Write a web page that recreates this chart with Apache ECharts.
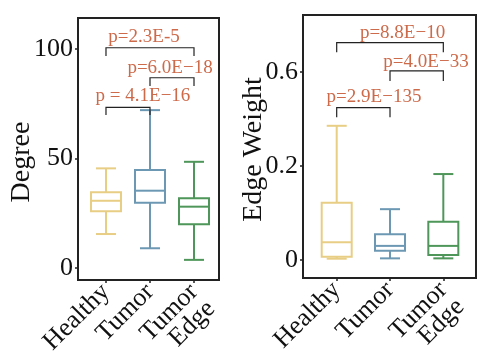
<!DOCTYPE html>
<html><head><meta charset="utf-8">
<script src="https://cdn.jsdelivr.net/npm/echarts@6/dist/echarts.min.js"></script>
<style>html,body{margin:0;padding:0;background:#fff}#c{width:477px;height:359px}</style>
</head><body><div id="c"></div>
<script>
// ---- data ----
const categories = ['Healthy', 'Tumor', 'Tumor\nEdge'];
const colors = ['#E8CD85', '#6C98B4', '#4E965A'];
// [min, Q1, median, Q3, max]
const degreeBoxes = [
  [15.5, 25.9, 30.7, 34.6, 45.5],
  [9.0, 29.8, 35.3, 44.7, 72.1],
  [3.7, 20.0, 28.0, 31.8, 48.5]
];
const edgeBoxes = [
  [0.002, 0.005, 0.028, 0.105, 0.338],
  [0.0025, 0.014, 0.022, 0.042, 0.091],
  [0.0025, 0.0075, 0.022, 0.065, 0.177]
];
const degreeTicks = [0, 50, 100];
const edgeTicks = [0, 0.2, 0.6];
// brackets: [fromCat, toCat, barY, endY]
const degreeBrackets = [[0, 1, 73.4, 69.9], [1, 2, 86.9, 83.1], [0, 2, 100.6, 96.8]];
const edgeBrackets = [[0, 1, 0.415, 0.373], [1, 2, 0.606, 0.548], [0, 2, 0.793, 0.725]];
// p labels: [text, x, y]
const degreeP = [['p = 4.1E\u221216', 0.84, 78.5], ['p=6.0E\u221218', 1.455, 91.3], ['p=2.3E-5', 0.864, 105.5]];
const edgeP = [['p=2.9E\u2212135', 0.70, 0.463], ['p=4.0E\u221233', 1.675, 0.658], ['p=8.8E\u221210', 1.235, 0.870]];

// edge weight axis is non-linear: equal spacing for 0, 0.2, 0.6
const tf = v => Math.log2(1 + 5 * v);

const FONT = '"Liberation Serif", "Times New Roman", serif';
const chart = echarts.init(document.getElementById('c'));

function boxSeries(gi, boxes, transform) {
  return {
    type: 'custom', xAxisIndex: gi, yAxisIndex: gi,
    data: boxes.map((b, i) => [i].concat(b.map(transform))),
    renderItem: function (params, api) {
      const i = api.value(0);
      const c = colors[i];
      const pMin = api.coord([i, api.value(1)]);
      const pQ1 = api.coord([i, api.value(2)]);
      const pMed = api.coord([i, api.value(3)]);
      const pQ3 = api.coord([i, api.value(4)]);
      const pMax = api.coord([i, api.value(5)]);
      const x = pMin[0], bw = 15, cw = 10;
      const st = { stroke: c, lineWidth: 2, fill: 'none' };
      return {
        type: 'group', children: [
          { type: 'line', shape: { x1: x, y1: pMax[1], x2: x, y2: pQ3[1] }, style: st },
          { type: 'line', shape: { x1: x, y1: pQ1[1], x2: x, y2: pMin[1] }, style: st },
          { type: 'line', shape: { x1: x - cw, y1: pMax[1], x2: x + cw, y2: pMax[1] }, style: st },
          { type: 'line', shape: { x1: x - cw, y1: pMin[1], x2: x + cw, y2: pMin[1] }, style: st },
          { type: 'rect', shape: { x: x - bw, y: pQ3[1], width: 2 * bw, height: pQ1[1] - pQ3[1] }, style: st },
          { type: 'line', shape: { x1: x - bw, y1: pMed[1], x2: x + bw, y2: pMed[1] }, style: st }
        ]
      };
    }
  };
}
function bracketSeries(gi, br, ps, transform) {
  return {
    type: 'custom', xAxisIndex: gi, yAxisIndex: gi,
    data: br.map(b => [b[0], b[1], transform(b[2]), transform(b[3])]),
    renderItem: function (params, api) {
      const a = api.coord([api.value(0), api.value(3)]);
      const b = api.coord([api.value(0), api.value(2)]);
      const c = api.coord([api.value(1), api.value(2)]);
      const d = api.coord([api.value(1), api.value(3)]);
      const p = ps[params.dataIndex];
      const t = api.coord([p[1], transform(p[2])]);
      return {
        type: 'group', children: [
          { type: 'polyline', shape: { points: [a, b, c, d] }, style: { stroke: '#222', lineWidth: 1.2, fill: 'none' } },
          { type: 'text', x: t[0], y: t[1], style: { text: p[0], fill: '#CC6A4A', font: '19px ' + FONT, align: 'center', verticalAlign: 'middle' } }
        ]
      };
    }
  };
}
// category labels, rotated 45deg, first line anchored at the tick
function catLabelSeries(gi) {
  return {
    type: 'custom', xAxisIndex: gi, yAxisIndex: gi, clip: false, silent: true,
    data: categories.map((c, i) => [i]),
    renderItem: function (params, api) {
      const i = api.value(0);
      const cs = params.coordSys;
      const px = api.coord([i, 0])[0];
      const lh = 24, margin = 8, h = lh / 2 * Math.SQRT1_2;
      return {
        type: 'text', x: px - h, y: cs.y + cs.height + margin - h, rotation: Math.PI / 4,
        style: { text: categories[i], font: '26px ' + FONT, fill: '#111', align: 'right', verticalAlign: 'top', lineHeight: lh }
      };
    }
  };
}
function xAx(gi, min, max) {
  return {
    type: 'value', gridIndex: gi, min: min, max: max,
    axisLine: { show: true, onZero: false, lineStyle: { color: '#222', width: 2 } },
    axisTick: { show: true, customValues: [0, 1, 2], length: 3, lineStyle: { color: '#222', width: 1.5 } },
    splitLine: { show: false },
    axisLabel: { show: false }
  };
}
function yAx(gi, min, max, ticks, transform, name, nameGap, pad) {
  const tv = ticks.map(transform);
  return {
    type: 'value', gridIndex: gi, min: min, max: max,
    name: name, nameLocation: 'middle', nameGap: nameGap, nameMoveOverlap: false,
    nameTextStyle: { fontFamily: FONT, fontSize: 28, color: '#111', padding: pad },
    axisLine: { show: true, onZero: false, lineStyle: { color: '#222', width: 2 } },
    axisTick: { show: true, customValues: tv, length: 3, lineStyle: { color: '#222', width: 1.5 } },
    splitLine: { show: false },
    axisLabel: {
      customValues: tv, margin: 5,
      formatter: v => String(ticks[tv.findIndex(t => Math.abs(t - v) < 1e-6)]),
      fontFamily: FONT, fontSize: 26, color: '#111'
    }
  };
}
const id = v => v;
chart.setOption({
  animation: false,
  backgroundColor: '#fff',
  grid: [
    { left: 78, top: 18, width: 141, height: 262, show: true, borderColor: '#222', borderWidth: 2, backgroundColor: 'transparent' },
    { left: 303, top: 15, width: 173, height: 263, show: true, borderColor: '#222', borderWidth: 2, backgroundColor: 'transparent' }
  ],
  xAxis: [xAx(0, -0.636, 2.568), xAx(1, -0.632, 2.613)],
  yAxis: [
    yAx(0, -5.5, 114.2, degreeTicks, id, 'Degree', 42, [0, 26, 0, 0]),
    yAx(1, -0.191, 2.606, edgeTicks, tf, 'Edge Weight', 35, [0, 6, 0, 0])
  ],
  series: [
    boxSeries(0, degreeBoxes, id),
    boxSeries(1, edgeBoxes, tf),
    bracketSeries(0, degreeBrackets, degreeP, id),
    bracketSeries(1, edgeBrackets, edgeP, tf),
    catLabelSeries(0),
    catLabelSeries(1)
  ]
});
</script></body></html>
